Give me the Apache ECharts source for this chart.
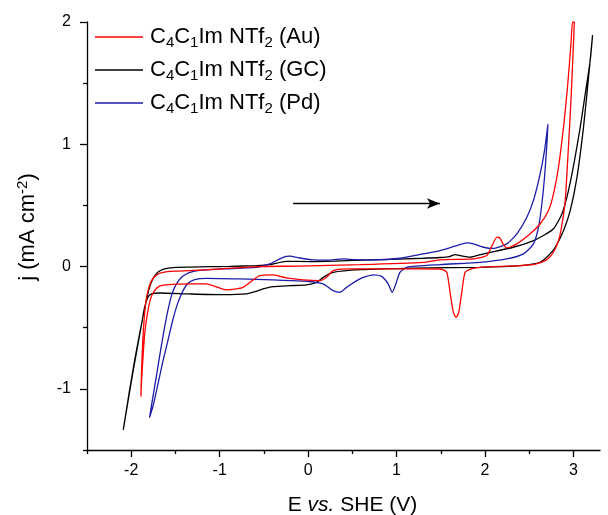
<!DOCTYPE html>
<html><head><meta charset="utf-8">
<script src="https://cdn.jsdelivr.net/npm/echarts@6/dist/echarts.min.js"></script>
<style>html,body{margin:0;padding:0;background:#fff}#c{width:608px;height:515px}</style>
</head><body><div id="c"></div>
<script>
// ---- data ----
const seriesNames = ['C4C1Im NTf2 (Au)', 'C4C1Im NTf2 (GC)', 'C4C1Im NTf2 (Pd)'];
const seriesRich  = ['C{s|4}C{s|1}Im NTf{s|2} (Au)', 'C{s|4}C{s|1}Im NTf{s|2} (GC)', 'C{s|4}C{s|1}Im NTf{s|2} (Pd)'];
const seriesColors = ['#ff0000', '#000000', '#1c1caa'];

const xTickValues = [-2, -1, 0, 1, 2, 3];
const xMinorValues = [-2.5, -1.5, -0.5, 0.5, 1.5, 2.5];
const yTickValues = [-1, 0, 1, 2];
const yMinorValues = [-1.5, -0.5, 0.5, 1.5];

// Au (red): forward (anodic) sweep, then reverse sweep
const auFwdE = [-1.891,-1.883,-1.872,-1.855,-1.832,-1.804,-1.77,-1.717,-1.642,-1.51,-1.34,-1.0,-0.584,-0.094,0.585,1.302,1.492,1.869,2.02,2.08,2.134,2.171,2.208,2.247,2.36,2.511,2.624,2.718,2.775,2.831,2.888,2.933,2.972,2.99];
const auFwdJ = [-1.063,-0.852,-0.648,-0.443,-0.279,-0.18,-0.115,-0.07,-0.047,-0.037,-0.033,-0.02,0.0,0.004,0.016,0.035,0.055,0.063,0.09,0.172,0.24,0.23,0.18,0.153,0.186,0.268,0.35,0.459,0.596,0.814,1.142,1.47,1.825,2.0];
const auRevE = [3.01,2.992,2.972,2.941,2.907,2.868,2.831,2.771,2.70,2.567,2.397,1.944,1.854,1.775,1.737,1.703,1.673,1.642,1.605,1.567,1.492,1.038,0.435,0.283,0.208,0.133,-0.057,-0.245,-0.396,-0.547,-0.736,-0.924,-1.151,-1.34,-1.604,-1.68,-1.736,-1.781,-1.815,-1.844,-1.866,-1.883,-1.891];
const auRevJ = [2.0,1.689,1.361,0.951,0.541,0.336,0.213,0.115,0.057,0.02,0.008,-0.006,-0.016,-0.047,-0.211,-0.375,-0.416,-0.375,-0.211,-0.047,-0.02,-0.019,-0.019,-0.033,-0.088,-0.115,-0.109,-0.093,-0.068,-0.074,-0.17,-0.191,-0.142,-0.142,-0.15,-0.16,-0.197,-0.262,-0.377,-0.525,-0.73,-0.934,-1.063];

// GC (black)
const gcFwdE = [-2.09,-2.02,-1.962,-1.906,-1.869,-1.83,-1.793,-1.755,-1.699,-1.624,-1.49,-0.887,-0.584,-0.434,-0.245,0.02,0.3,0.74,1.3,1.49,1.6,1.66,1.73,1.83,1.98,2.32,2.55,2.66,2.775,2.87,2.944,3.012,3.077,3.134,3.19,3.216];
const gcFwdJ = [-1.336,-1.016,-0.77,-0.552,-0.416,-0.279,-0.17,-0.101,-0.047,-0.019,-0.006,0.002,0.008,0.016,0.043,0.041,0.045,0.055,0.068,0.074,0.082,0.098,0.088,0.076,0.104,0.158,0.213,0.254,0.309,0.432,0.623,0.869,1.142,1.416,1.689,1.893];
const gcRevE = [3.171,3.114,3.04,2.964,2.888,2.794,2.718,2.624,2.397,1.944,1.2,0.585,0.283,0.17,0.095,-0.018,-0.207,-0.396,-0.51,-0.584,-0.698,-0.963,-1.34,-1.68,-1.773,-1.812,-1.849,-1.878,-1.915,-1.965,-2.02,-2.09];
const gcRevJ = [1.552,1.142,0.732,0.459,0.295,0.158,0.09,0.035,0.008,-0.006,-0.012,-0.025,-0.047,-0.088,-0.129,-0.15,-0.156,-0.164,-0.183,-0.202,-0.224,-0.23,-0.224,-0.216,-0.224,-0.252,-0.334,-0.45,-0.6,-0.8,-1.03,-1.336];

// Pd (blue)
const pdFwdE = [-1.793,-1.753,-1.717,-1.68,-1.64,-1.586,-1.538,-1.49,-1.434,-1.377,-1.306,-1.226,-0.963,-0.584,-0.434,-0.283,-0.207,-0.094,0.053,0.246,0.396,0.529,0.736,1.038,1.302,1.492,1.681,1.794,1.869,1.982,2.095,2.247,2.36,2.473,2.548,2.624,2.673,2.711];
const pdFwdJ = [-1.235,-1.057,-0.902,-0.738,-0.566,-0.361,-0.221,-0.143,-0.09,-0.061,-0.041,-0.031,-0.019,-0.006,0.022,0.076,0.086,0.07,0.055,0.053,0.063,0.057,0.055,0.068,0.104,0.131,0.172,0.194,0.186,0.158,0.148,0.186,0.268,0.404,0.541,0.76,0.951,1.164];
const pdRevE = [2.70,2.673,2.643,2.605,2.548,2.435,2.247,1.944,1.492,1.114,1.038,0.993,0.951,0.903,0.831,0.736,0.585,0.435,0.359,0.283,0.17,-0.018,-0.396,-0.774,-1.151,-1.283,-1.362,-1.419,-1.476,-1.532,-1.586,-1.646,-1.702,-1.753,-1.793];
const pdRevJ = [1.006,0.732,0.514,0.322,0.186,0.104,0.063,0.035,0.016,-0.006,-0.047,-0.139,-0.211,-0.139,-0.08,-0.068,-0.101,-0.17,-0.211,-0.197,-0.142,-0.12,-0.109,-0.101,-0.096,-0.107,-0.139,-0.205,-0.303,-0.443,-0.607,-0.787,-0.975,-1.139,-1.235];

// sweep-direction arrow (data coordinates)
const arrowFrom = [-0.17, 0.516];
const arrowTo = [1.49, 0.516];

// ---- build ----
const zip = (xs, ys) => xs.map((x, i) => [x, ys[i]]);
const curves = [
  zip(auFwdE, auFwdJ).concat(zip(auRevE, auRevJ)),
  zip(gcFwdE, gcFwdJ).concat(zip(gcRevE, gcRevJ)),
  zip(pdFwdE, pdFwdJ).concat(zip(pdRevE, pdRevJ))
];
const FONT = '"Liberation Sans", Arial, Helvetica, sans-serif';
const drawOrder = [1, 2, 0];

const series = drawOrder.map(i => ({
  name: seriesNames[i], type: 'line', data: curves[i],
  symbol: 'none', smooth: 0.2, silent: true, animation: false,
  lineStyle: { color: seriesColors[i], width: 1.3 },
  itemStyle: { color: seriesColors[i] },
  z: 3
}));
series.push({
  name: 'arrow', type: 'line', data: [], symbol: 'none', silent: true, animation: false,
  markLine: {
    silent: true, animation: false,
    symbol: ['none', 'arrow'], symbolSize: [8, 13],
    label: { show: false },
    lineStyle: { color: '#000', width: 1.3, type: 'solid' },
    data: [[{ coord: arrowFrom }, { coord: arrowTo }]]
  }
});

const axisLine = { show: true, onZero: false, lineStyle: { color: '#000', width: 1.3 } };
const hiddenLine = { show: false, onZero: false };

const option = {
  animation: false,
  backgroundColor: '#fff',
  grid: { left: 87, right: 8, top: 22, bottom: 65, outerBoundsMode: 'none', containLabel: false },
  legend: {
    data: seriesNames, orient: 'vertical', left: 95, top: 24, padding: 0,
    itemWidth: 48, itemHeight: 14, itemGap: 7, selectedMode: false,
    icon: 'path://M0,6 L48,6 L48,7.3 L0,7.3 Z',
    formatter: name => seriesRich[seriesNames.indexOf(name)],
    textStyle: {
      fontFamily: FONT, fontSize: 22, color: '#000', lineHeight: 26, padding: [0, 0, 0, 2],
      rich: { s: { fontFamily: FONT, fontSize: 15, color: '#000', verticalAlign: 'bottom', lineHeight: 12 } }
    }
  },
  xAxis: [{
    type: 'value', min: -2.5, max: 3.3, position: 'bottom',
    axisLine, splitLine: { show: false },
    axisTick: { show: true, inside: false, length: 7, customValues: xTickValues, lineStyle: { color: '#000', width: 1.3 } },
    axisLabel: { customValues: xTickValues, fontFamily: FONT, fontSize: 16, color: '#000', margin: 13 },
    name: 'E {i|vs.} SHE (V)', nameLocation: 'middle', nameGap: 45,
    nameTextStyle: { fontFamily: FONT, fontSize: 21, color: '#000', padding: [0, 0, 0, 18],
      rich: { i: { fontFamily: FONT, fontSize: 21, fontStyle: 'italic', color: '#000' } } }
  }, {
    type: 'value', min: -2.5, max: 3.3, position: 'bottom',
    axisLine: hiddenLine, splitLine: { show: false }, axisLabel: { show: false },
    axisTick: { show: true, inside: false, length: 4, customValues: xMinorValues, lineStyle: { color: '#000', width: 1.3 } }
  }],
  yAxis: [{
    type: 'value', min: -1.5, max: 2, position: 'left',
    axisLine, splitLine: { show: false },
    axisTick: { show: true, inside: false, length: 7, customValues: yTickValues, lineStyle: { color: '#000', width: 1.3 } },
    axisLabel: { customValues: yTickValues, fontFamily: FONT, fontSize: 16, color: '#000', margin: 16 },
    name: 'j (mA cm{p|-2})', nameLocation: 'middle', nameGap: 46,
    nameTextStyle: { fontFamily: FONT, fontSize: 22, color: '#000', lineHeight: 26, padding: [0, 0, 0, 18],
      rich: { p: { fontFamily: FONT, fontSize: 15, color: '#000', verticalAlign: 'top', lineHeight: 13 } } }
  }, {
    type: 'value', min: -1.5, max: 2, position: 'left',
    axisLine: hiddenLine, splitLine: { show: false }, axisLabel: { show: false },
    axisTick: { show: true, inside: false, length: 4, customValues: yMinorValues, lineStyle: { color: '#000', width: 1.3 } }
  }],
  series
};

const chart = echarts.init(document.getElementById('c'), null, { renderer: 'canvas' });
chart.setOption(option);
</script>
</body></html>
